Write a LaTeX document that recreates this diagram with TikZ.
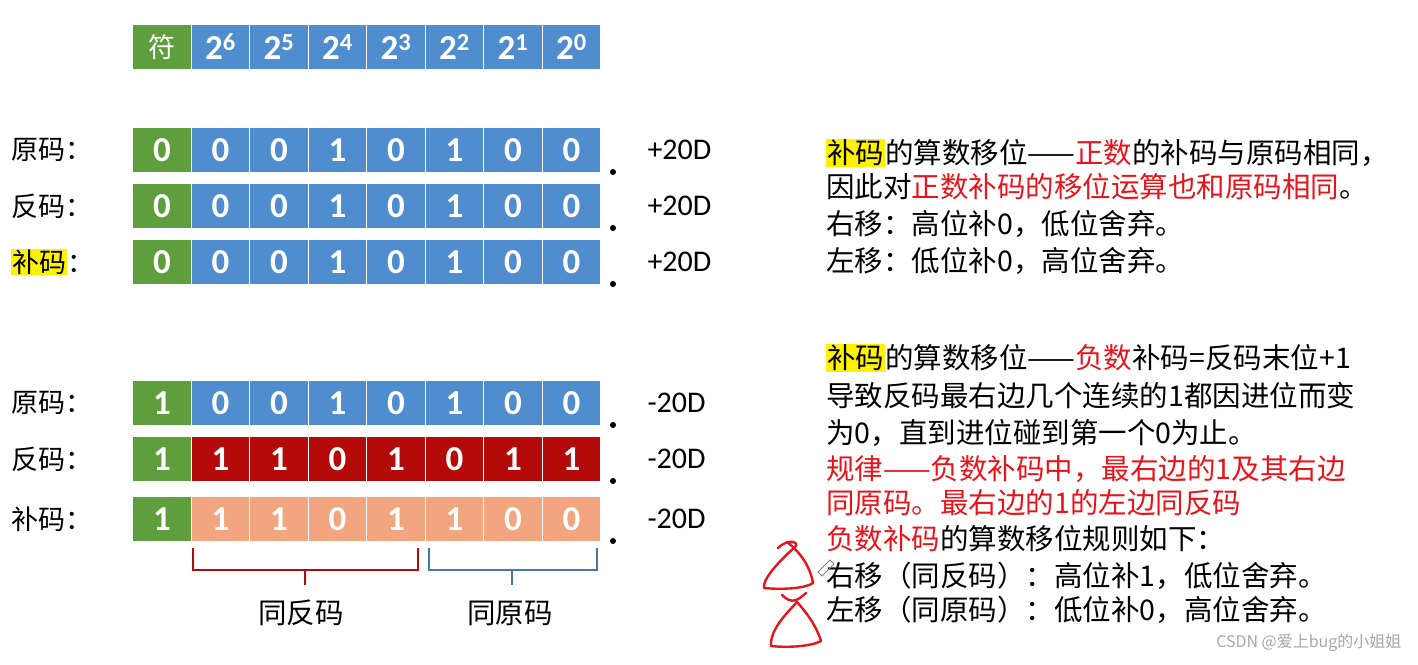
\documentclass[tikz,border=0pt]{standalone}
\usepackage{fontspec}
\setmainfont{Noto Sans}
\newfontfamily\cjk{Noto Sans CJK SC}
\newfontfamily\cellfont{Carlito}
\usetikzlibrary{positioning}
\definecolor{signgreen}{HTML}{5E9E3C}
\definecolor{cellblue}{HTML}{4F8DCE}
\definecolor{celldark}{HTML}{B40A0A}
\definecolor{cellpeach}{HTML}{F2A57E}
\definecolor{markred}{HTML}{E8141B}
\newcommand{\hlbox}[1]{{\setlength{\fboxsep}{1pt}\colorbox{yellow}{#1}}}
\begin{document}
\begin{tikzpicture}[x=1pt,y=-1pt,
  cell/.style = {draw=white, line width=1pt, minimum width=58.5pt, minimum height=45pt, inner sep=0pt, text=white, font=\cellfont\bfseries\fontsize{35}{35}\selectfont},
  rowlbl/.style = {anchor=west, font=\cjk\fontsize{27}{27}\selectfont, inner sep=1pt},
  val/.style = {anchor=west, font=\cellfont\fontsize{30}{30}\selectfont},
  txt/.style = {anchor=west, font=\cjk\fontsize{28.5}{28.5}\selectfont, inner sep=0pt},
  brace/.style = {line width=1.3pt}]
\useasboundingbox (0,0) rectangle (1418,664);
% header
\node[cell, fill=signgreen, font=\cjk\fontsize{27}{27}\selectfont] (h0) at (162,47) {符};
\foreach \e [count=\i] in {6,5,4,3,2,1,0}
  \node[cell, fill=cellblue] (h\i) at (162+58.5*\i,47) {2\textsuperscript{\e}};
% rows: y, label, sign, bits, colour, value
\foreach \r/\y/\lab/\s/\bits/\col/\v in {
  a/150/原码/0/{0,0,1,0,1,0,0}/cellblue/+20D,
  b/206/反码/0/{0,0,1,0,1,0,0}/cellblue/+20D,
  c/262/\hlbox{补码}/0/{0,0,1,0,1,0,0}/cellblue/+20D,
  d/403/原码/1/{0,0,1,0,1,0,0}/cellblue/-20D,
  e/459/反码/1/{1,1,0,1,0,1,1}/celldark/-20D,
  f/519/补码/1/{1,1,0,1,1,0,0}/cellpeach/-20D} {
  \node[cell, fill=signgreen] (\r0) at (162,\y) {\s};
  \foreach \b [count=\i] in \bits
    \node[cell, fill=\col] (\r\i) at (162+58.5*\i,\y) {\b};
  \node[rowlbl] (\r l) at (10,\y) {\lab：};
  \node[val] (\r v) at (644,\y) {\v};
  \fill (613,\y+22) circle (3pt);
}
% braces
\draw[brace, celldark] (193,548) |- (418,570) -- (418,548) (305,570) -- (305,585);
\draw[brace, cellblue!85!black] (429,548) |- (597,570) -- (597,548) (512,570) -- (512,585);
\node[txt] (same1) at (258,613) {同反码};
\node[txt] (same2) at (467,613) {同原码};
% right text
\node[txt] (t1) at (826,153) {\hlbox{补码}的算数移位——\textcolor{markred}{正数}的补码与原码相同，};
\node[txt] (t2) at (826,187) {因此对\textcolor{markred}{正数补码的移位运算也和原码相同}。};
\node[txt] (t3) at (826,224) {右移：高位补0，低位舍弃。};
\node[txt] (t4) at (826,261) {左移：低位补0，高位舍弃。};
\node[txt] (t5) at (826,358) {\hlbox{补码}的算数移位——\textcolor{markred}{负数}补码=反码末位+1};
\node[txt] (t6) at (826,396) {导致反码最右边几个连续的1都因进位而变};
\node[txt] (t7) at (826,433) {为0，直到进位碰到第一个0为止。};
\node[txt, text=markred] (t8) at (826,469) {规律——负数补码中，最右边的1及其右边};
\node[txt, text=markred] (t9) at (826,503) {同原码。最右边的1的左边同反码};
\node[txt] (t10) at (826,539) {\textcolor{markred}{负数补码}的算数移位规则如下：};
\node[txt] (t11) at (826,576) {右移（同反码）：高位补1，低位舍弃。};
\node[txt] (t12) at (826,610) {左移（同原码）：低位补0，高位舍弃。};
\node[anchor=east, text=gray!70, font=\cjk\fontsize{16}{16}\selectfont] (wm) at (1405,643) {CSDN @爱上bug的小姐姐};
% hand-drawn marks
\draw[markred, line width=2.4pt, line cap=round, line join=round]
  (778,548) .. controls (788,538) and (800,542) .. (795,547)
  .. controls (778,562) and (762,580) .. (764,588)
  .. controls (785,590) and (806,588) .. (813,583)
  .. controls (810,566) and (800,552) .. (787,542);
\draw[markred, line width=2.4pt, line cap=round, line join=round]
  (782,595) .. controls (792,605) and (798,600) .. (806,593)
  (797,602) .. controls (785,615) and (770,630) .. (771,646)
  .. controls (790,648) and (812,646) .. (821,641)
  .. controls (816,625) and (806,612) .. (797,602);
\draw[gray, line width=1pt] (818,572) -- (830,560) -- (834,564) -- (822,576) -- cycle;
\end{tikzpicture}
\end{document}
